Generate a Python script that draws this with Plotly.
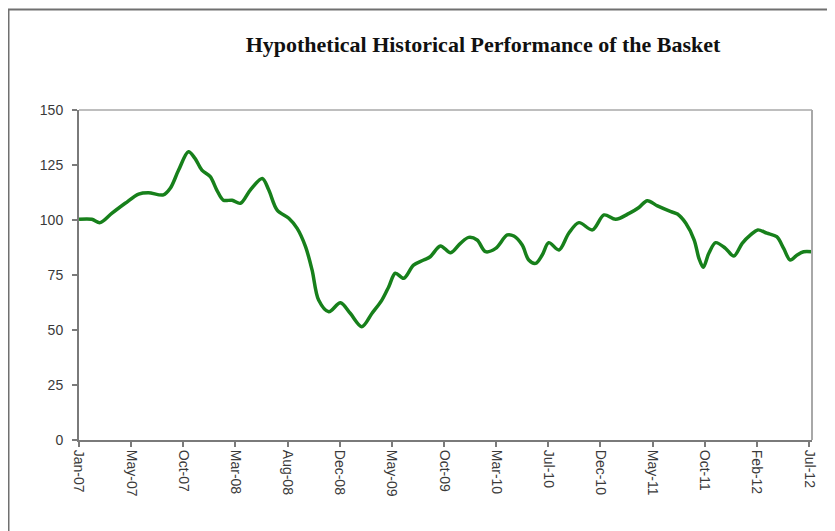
import plotly.graph_objects as go
import pandas as pd

dates = [
    "2007-01-01", "2007-02-05", "2007-02-28", "2007-04-01", "2007-05-08", "2007-06-14",
    "2007-07-11", "2007-08-21", "2007-09-09", "2007-10-02", "2007-10-29", "2007-11-16",
    "2007-12-05", "2007-12-28", "2008-01-15", "2008-02-02", "2008-02-26", "2008-03-20",
    "2008-04-16", "2008-05-19", "2008-06-06", "2008-06-29", "2008-07-31", "2008-08-23",
    "2008-09-15", "2008-10-03", "2008-10-21", "2008-11-18", "2008-12-20", "2009-01-16",
    "2009-02-17", "2009-03-17", "2009-04-13", "2009-05-02", "2009-05-20", "2009-06-12",
    "2009-07-09", "2009-08-06", "2009-08-24", "2009-09-21", "2009-10-19", "2009-11-15",
    "2009-12-08", "2009-12-31", "2010-01-23", "2010-02-20", "2010-03-24", "2010-04-11",
    "2010-05-04", "2010-05-22", "2010-06-10", "2010-06-28", "2010-07-16", "2010-08-13",
    "2010-09-09", "2010-10-07", "2010-11-13", "2010-12-15", "2011-01-16", "2011-02-22",
    "2011-03-21", "2011-04-13", "2011-05-11", "2011-06-17", "2011-07-05", "2011-07-28",
    "2011-08-20", "2011-09-02", "2011-09-14", "2011-09-29", "2011-10-18", "2011-11-14",
    "2011-12-07", "2011-12-30", "2012-01-22", "2012-02-11", "2012-03-07", "2012-04-03",
    "2012-04-22", "2012-05-10", "2012-05-29", "2012-06-16", "2012-07-09",
]
values = [
    100.3, 100.3, 98.8, 103.0, 107.6, 111.8,
    112.4, 111.4, 114.4, 122.7, 131.0, 128.0,
    122.7, 119.7, 113.6, 109.0, 109.0, 107.6,
    113.6, 118.9, 113.6, 104.5, 100.8, 96.2,
    87.9, 77.3, 63.6, 58.3, 62.4, 57.6,
    51.5, 57.6, 63.6, 69.7, 75.8, 73.5,
    79.5, 81.8, 83.3, 88.2, 85.1, 89.4,
    92.1, 90.9, 85.6, 87.1, 93.2, 92.7,
    88.6, 81.8, 80.3, 84.1, 89.7, 86.4,
    94.0, 98.8, 95.5, 102.3, 100.3, 103.0,
    105.7, 108.8, 106.4, 103.8, 102.7, 98.5,
    90.9, 82.6, 78.5, 84.8, 89.7, 87.1,
    83.6, 89.4, 93.2, 95.5, 94.0, 92.4,
    87.1, 81.8, 84.1, 85.6, 85.6,
]
tick_labels = ["Jan-07", "May-07", "Oct-07", "Mar-08", "Aug-08", "Dec-08", "May-09",
               "Oct-09", "Mar-10", "Jul-10", "Dec-10", "May-11", "Oct-11", "Feb-12", "Jul-12"]
y_ticks = [0, 25, 50, 75, 100, 125, 150]

tick_positions = pd.date_range("2007-01-01", "2012-07-01", periods=len(tick_labels))

# page body has an 8px margin; figure is laid out to compensate
W, H = 827, 523
ML, MR, MT, MB = 71, 23, 102, 91
PW, PH = W - ML - MR, H - MT - MB

fig = go.Figure()
fig.add_trace(go.Scatter(
    x=pd.to_datetime(dates), y=values, mode="lines",
    line=dict(color="#17801b", width=3.5, shape="spline", smoothing=0.9),
    showlegend=False, hoverinfo="skip",
))

tick_font = dict(family="Liberation Sans, Arial, sans-serif", size=14, color="#3a3a3a")

fig.update_layout(
    width=W, height=H,
    margin=dict(l=ML, r=MR, t=MT, b=MB),
    paper_bgcolor="white", plot_bgcolor="white",
    title=dict(
        text="<b>Hypothetical Historical Performance of the Basket</b>",
        font=dict(family="Liberation Serif, Times New Roman, serif", size=22, color="#111"),
        x=475 / W, xanchor="center", xref="container",
        y=1 - 36 / H, yanchor="middle", yref="container",
    ),
    xaxis=dict(
        type="date",
        range=[pd.Timestamp("2007-01-01"), pd.Timestamp("2012-07-09")],
        tickvals=list(tick_positions), ticktext=tick_labels,
        tickangle=90,
        showgrid=False, zeroline=False,
        showline=True, linecolor="#7a7a7a", linewidth=2,
        ticks="outside", ticklen=5, tickcolor="#7a7a7a", tickwidth=1.5,
        tickfont=tick_font,
    ),
    yaxis=dict(
        range=[0, 150], tickvals=y_ticks,
        showgrid=False, zeroline=False,
        showline=True, linecolor="#7a7a7a", linewidth=2,
        ticks="outside", ticklen=5, tickcolor="#7a7a7a", tickwidth=1.5,
        ticklabelstandoff=6,
        tickfont=tick_font,
    ),
    shapes=[
        dict(type="line", xref="paper", yref="paper", x0=0, x1=1, y0=1, y1=1,
             line=dict(color="#a8a8a8", width=1.5)),
        dict(type="line", xref="paper", yref="paper", x0=1, x1=1, y0=0, y1=1,
             line=dict(color="#a8a8a8", width=2)),
        dict(type="rect", xref="paper", yref="paper",
             x0=(0.5 - ML) / PW, x1=(W + 20 - ML) / PW,
             y0=-(MB + 20) / PH, y1=(PH + MT - 1.5) / PH,
             line=dict(color="#707070", width=2), fillcolor="rgba(0,0,0,0)", layer="below"),
    ],
)

fig.write_html("out.html")
